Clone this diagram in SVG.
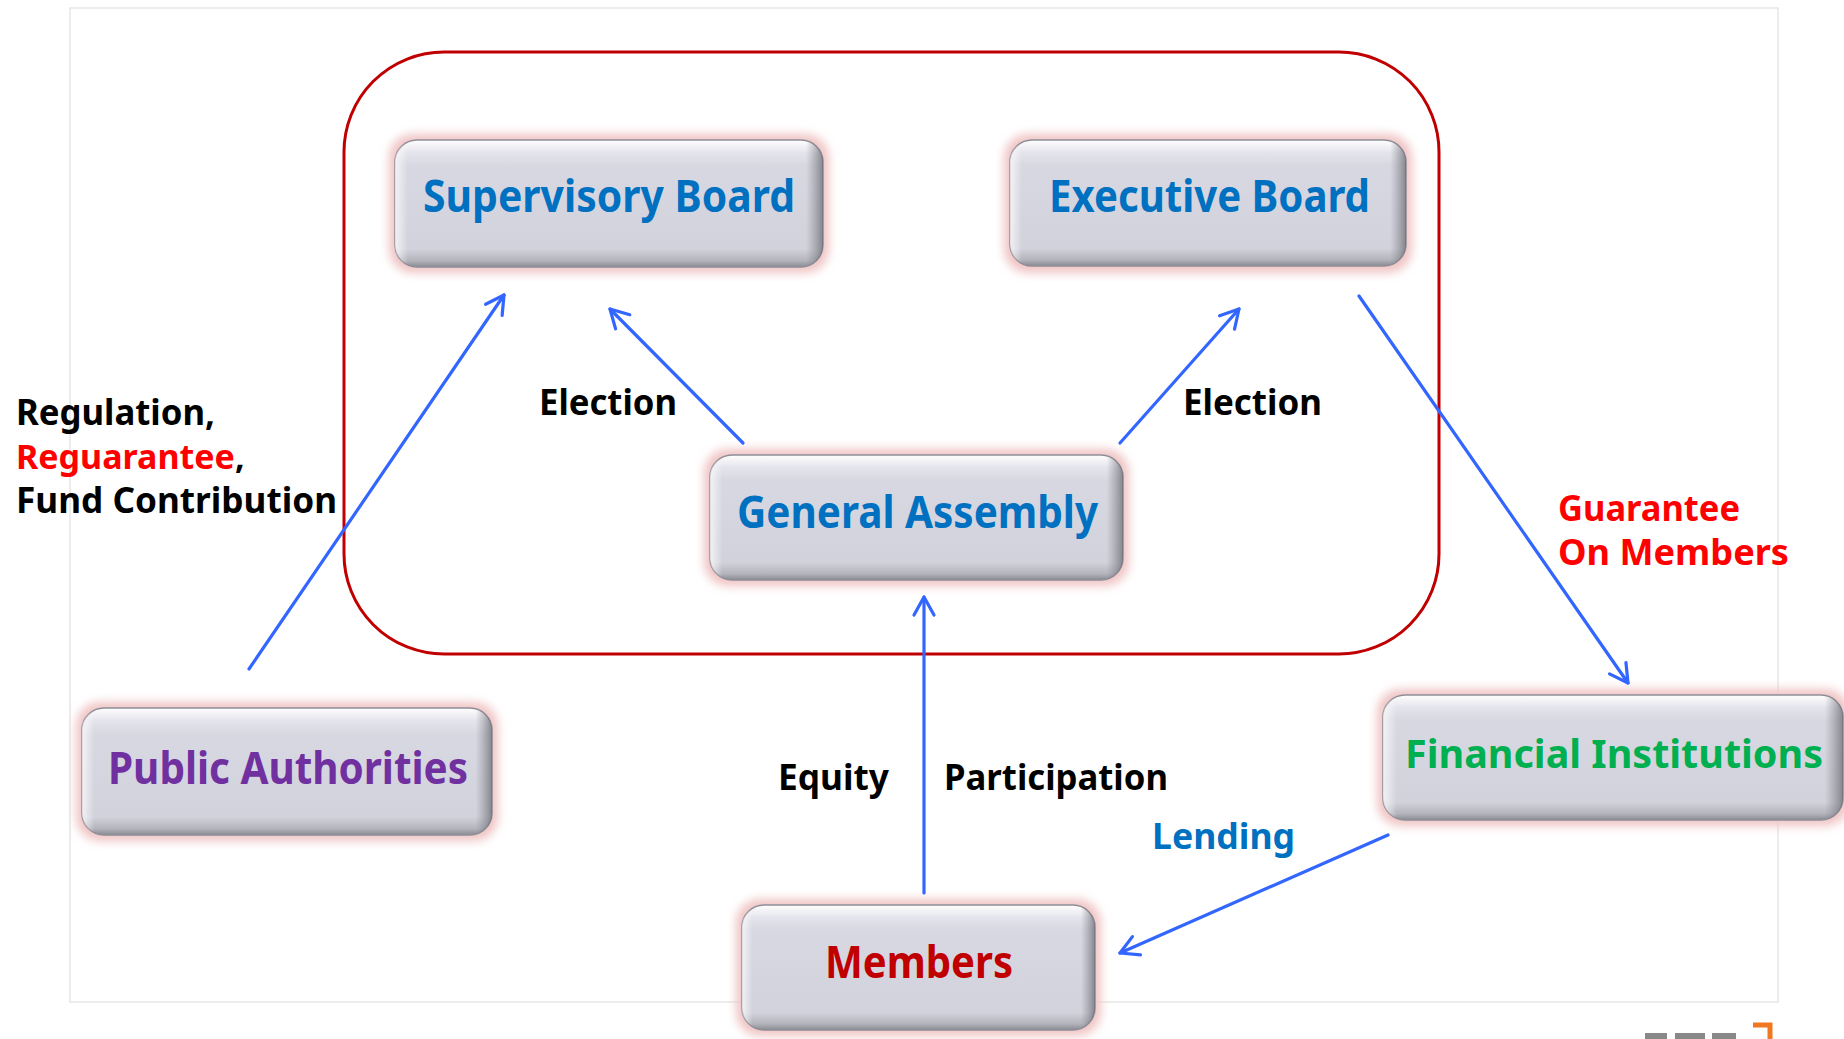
<svg xmlns="http://www.w3.org/2000/svg" width="1844" height="1039" viewBox="0 0 1844 1039">
<style>
.nt{font-family:"Noto Sans","Liberation Sans",sans-serif;font-weight:bold;font-size:44px}
.lb{font-family:"Noto Sans","Liberation Sans",sans-serif;font-weight:bold;font-size:35px;fill:#000}
.glow{fill:#f0c4c4;filter:url(#blur)}
.body{fill:url(#nodeFill);stroke:#8e8e98;stroke-width:1.5}
.side{fill:url(#nodeSide)}
.arr{stroke:#3366ff;stroke-width:3.2;fill:none;stroke-linecap:round;marker-end:url(#ah)}
</style>
<defs>
<filter id="blur" x="-10%" y="-20%" width="120%" height="140%"><feGaussianBlur stdDeviation="5"/></filter>
<linearGradient id="nodeFill" x1="0" y1="0" x2="0" y2="1">
<stop offset="0" stop-color="#ffffff"/>
<stop offset="0.1" stop-color="#e4e4ec"/>
<stop offset="0.2" stop-color="#d8d8e2"/>
<stop offset="0.86" stop-color="#d2d2dc"/>
<stop offset="0.95" stop-color="#b4b4bc"/>
<stop offset="1" stop-color="#8a8a92"/>
</linearGradient>
<linearGradient id="nodeSide" x1="0" y1="0" x2="1" y2="0">
<stop offset="0" stop-color="#ffffff" stop-opacity="0.7"/>
<stop offset="0.03" stop-color="#ffffff" stop-opacity="0"/>
<stop offset="0.96" stop-color="#808088" stop-opacity="0"/>
<stop offset="1" stop-color="#6a6a72" stop-opacity="0.75"/>
</linearGradient>
<marker id="ah" viewBox="0 0 20 20" refX="18" refY="10" markerWidth="20" markerHeight="20" markerUnits="userSpaceOnUse" orient="auto" overflow="visible">
<path d="M0,0 L18,10 L0,20" fill="none" stroke="#3366ff" stroke-width="3.2" stroke-linecap="round" stroke-linejoin="round"/>
</marker>
</defs>
<rect x="0" y="0" width="1844" height="1039" fill="#ffffff"/>
<rect x="70" y="8" width="1708" height="994" fill="none" stroke="#e6e6e6" stroke-width="1.5"/>
<g id="logo">
<path d="M1753,1025 L1770,1025 L1770,1039" fill="none" stroke="#f07820" stroke-width="5"/>
<rect x="1645" y="1033" width="22" height="6" fill="#888"/>
<rect x="1675" y="1033" width="30" height="6" fill="#888"/>
<rect x="1712" y="1033" width="24" height="6" fill="#888"/>
</g>
<g id="container">
<rect x="344" y="52" width="1095" height="602" rx="100" ry="100" fill="none" stroke="#c00000" stroke-width="3"/>
</g>
<g id="supervisory-board">
<rect class="glow" x="389" y="134" width="440" height="139" rx="24"/>
<rect class="body" x="395" y="140" width="428" height="127" rx="22"/>
<rect class="side" x="395" y="140" width="428" height="127" rx="22"/>
<text class="nt" x="423" y="212" fill="#0070c0" textLength="372" lengthAdjust="spacingAndGlyphs">Supervisory Board</text>
</g>
<g id="executive-board">
<rect class="glow" x="1004" y="134" width="408" height="139" rx="24"/>
<rect class="body" x="1010" y="140" width="396" height="126" rx="22"/>
<rect class="side" x="1010" y="140" width="396" height="126" rx="22"/>
<text class="nt" x="1049" y="212" fill="#0070c0" textLength="321" lengthAdjust="spacingAndGlyphs">Executive Board</text>
</g>
<g id="general-assembly">
<rect class="glow" x="704" y="449" width="425" height="137" rx="24"/>
<rect class="body" x="710" y="455" width="413" height="125" rx="22"/>
<rect class="side" x="710" y="455" width="413" height="125" rx="22"/>
<text class="nt" x="737" y="528" fill="#0070c0" textLength="361" lengthAdjust="spacingAndGlyphs">General Assembly</text>
</g>
<g id="public-authorities">
<rect class="glow" x="76" y="702" width="422" height="139" rx="24"/>
<rect class="body" x="82" y="708" width="410" height="127" rx="22"/>
<rect class="side" x="82" y="708" width="410" height="127" rx="22"/>
<text class="nt" x="108" y="784" fill="#7030a0" textLength="360" lengthAdjust="spacingAndGlyphs">Public Authorities</text>
</g>
<g id="financial-institutions">
<rect class="glow" x="1377" y="689" width="472" height="137" rx="24"/>
<rect class="body" x="1383" y="695" width="460" height="125" rx="22"/>
<rect class="side" x="1383" y="695" width="460" height="125" rx="22"/>
<text class="nt" x="1405" y="768" fill="#00b050" style="font-size:40px" textLength="418" lengthAdjust="spacingAndGlyphs">Financial Institutions</text>
</g>
<g id="members">
<rect class="glow" x="736" y="899" width="365" height="137" rx="24"/>
<rect class="body" x="742" y="905" width="353" height="125" rx="22"/>
<rect class="side" x="742" y="905" width="353" height="125" rx="22"/>
<text class="nt" x="825" y="978" fill="#c00000" textLength="188" lengthAdjust="spacingAndGlyphs">Members</text>
</g>
<g id="connectors">
<line class="arr" x1="249" y1="669" x2="504" y2="295"/>
<line class="arr" x1="743" y1="443" x2="610" y2="309"/>
<line class="arr" x1="1120" y1="443" x2="1239" y2="309"/>
<line class="arr" x1="1359" y1="296" x2="1628" y2="683"/>
<line class="arr" x1="924" y1="893" x2="924" y2="597"/>
<line class="arr" x1="1388" y1="835" x2="1120" y2="953"/>
</g>
<g id="labels">
<text class="lb" x="16" y="425" textLength="199" lengthAdjust="spacingAndGlyphs">Regulation,</text>
<text class="lb" x="16" y="469" style="font-size:34px"><tspan style="fill:#ff0000">Reguarantee</tspan>,</text>
<text class="lb" x="16" y="513" textLength="321" lengthAdjust="spacingAndGlyphs">Fund Contribution</text>
<text class="lb" x="539" y="415" textLength="138" lengthAdjust="spacingAndGlyphs">Election</text>
<text class="lb" x="1183" y="415" textLength="139" lengthAdjust="spacingAndGlyphs">Election</text>
<text class="lb" x="1558" y="521" style="fill:#ff0000" textLength="182" lengthAdjust="spacingAndGlyphs">Guarantee</text>
<text class="lb" x="1558" y="565" style="fill:#ff0000" textLength="231" lengthAdjust="spacingAndGlyphs">On Members</text>
<text class="lb" x="778" y="790" textLength="111" lengthAdjust="spacingAndGlyphs">Equity</text>
<text class="lb" x="944" y="790" textLength="224" lengthAdjust="spacingAndGlyphs">Participation</text>
<text class="lb" x="1152" y="849" style="fill:#0070c0" textLength="143" lengthAdjust="spacingAndGlyphs">Lending</text>
</g>
</svg>
